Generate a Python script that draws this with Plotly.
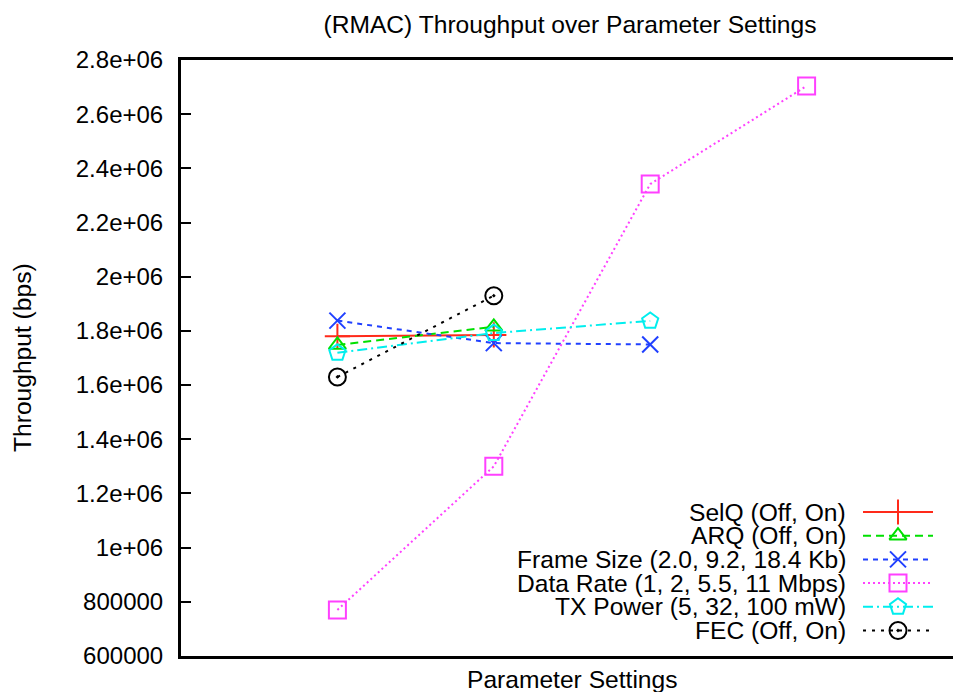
import plotly.graph_objects as go

# Parameter-setting index along the x axis
settings = [1, 2, 3, 4]

# Throughput (bps) per configuration
selq = [1780000, 1785000]
arq = [1748000, 1815000]
frame_size = [1838000, 1755000, 1750000]
data_rate = [770000, 1300000, 2342000, 2704000]
tx_power = [1719000, 1792000, 1837000]
fec = [1630000, 1930000]

names = [
    "SelQ (Off, On)",
    "ARQ (Off, On)",
    "Frame Size (2.0, 9.2, 18.4 Kb)",
    "Data Rate (1, 2, 5.5, 11 Mbps)",
    "TX Power (5, 32, 100 mW)",
    "FEC (Off, On)",
]

y_tickvals = [600000, 800000, 1000000, 1200000, 1400000, 1600000, 1800000,
              2000000, 2200000, 2400000, 2600000, 2800000]
y_ticktext = ["600000", "800000", "1e+06", "1.2e+06", "1.4e+06", "1.6e+06",
              "1.8e+06", "2e+06", "2.2e+06", "2.4e+06", "2.6e+06", "2.8e+06"]

series = [selq, arq, frame_size, data_rate, tx_power, fec]

styles = [
    dict(color="#ff2a1a", dash="solid", symbol="cross-thin-open", size=18),
    dict(color="#00e000", dash="8px,5px", symbol="triangle-up-open", size=15),
    dict(color="#2040ff", dash="5px,5px", symbol="x-thin-open", size=16),
    dict(color="#ff40ff", dash="2px,3px", symbol="square-open", size=17),
    dict(color="#00eeee", dash="10px,4px,2px,4px", symbol="pentagon-open", size=17),
    dict(color="#000000", dash="3px,6px", symbol="circle-open-dot", size=17),
]

FONT = "Liberation Sans, Arial, Helvetica, sans-serif"
TEXT_SIZE = 24.6

fig = go.Figure()

for vals, st, name in zip(series, styles, names):
    fig.add_trace(go.Scatter(
        x=settings[:len(vals)], y=vals, name=name, mode="lines+markers",
        line=dict(color=st["color"], dash=st["dash"], width=2),
        marker=dict(symbol=st["symbol"], size=st["size"], color=st["color"],
                    line=dict(color=st["color"], width=2)),
        showlegend=False, hoverinfo="x+y+name",
    ))

# Key: sample line with a centred marker, label to its left
for row, (st, name) in enumerate(zip(styles, names)):
    fig.add_trace(go.Scatter(
        x=[0, 1], y=[row, row], mode="lines", xaxis="x2", yaxis="y2",
        line=dict(color=st["color"], dash=st["dash"], width=2),
        showlegend=False, hoverinfo="skip",
    ))
    fig.add_trace(go.Scatter(
        x=[0.5], y=[row], mode="markers", xaxis="x2", yaxis="y2",
        marker=dict(symbol=st["symbol"], size=st["size"], color=st["color"],
                    line=dict(color=st["color"], width=2)),
        showlegend=False, hoverinfo="skip",
    ))
    fig.add_annotation(
        x=0.8627, xref="paper", y=row, yref="y2", text=name, showarrow=False,
        xanchor="right", yanchor="middle", borderpad=0,
        font=dict(size=TEXT_SIZE, color="black"),
    )

W, H = 953, 692
L, T, B = 181, 60, 36
plot_w = W - L
step = 156.4

fig.update_layout(
    width=W, height=H,
    margin=dict(l=L, r=0, t=T, b=B),
    paper_bgcolor="white", plot_bgcolor="white",
    font=dict(family=FONT, size=24, color="black"),
    title=dict(text="(RMAC) Throughput over Parameter Settings",
               x=570 / W, xanchor="center",
               y=1 - 24 / H, yanchor="middle", yref="container",
               font=dict(size=TEXT_SIZE)),
    xaxis=dict(range=[0, plot_w / step], showticklabels=False, ticks="",
               showgrid=False, zeroline=False, showline=True,
               linecolor="black", linewidth=3, mirror=True, domain=[0, 1]),
    yaxis=dict(range=[600000, 2800000], tickvals=y_tickvals,
               ticktext=y_ticktext, ticks="inside", ticklen=10,
               tickwidth=2, tickcolor="black", showgrid=False,
               zeroline=False, showline=True, linecolor="black",
               linewidth=3, ticklabelstandoff=10,
               tickfont=dict(size=24)),
    xaxis2=dict(domain=[(863 - L) / plot_w, (933 - L) / plot_w],
                range=[0, 1], visible=False, anchor="y2"),
    yaxis2=dict(domain=[0, 1], range=[(656 - 512) / 23.7, (60 - 512) / 23.7],
                visible=False, anchor="x2"),
    showlegend=False,
)

fig.add_annotation(
    text="Throughput (bps)", textangle=-90, showarrow=False,
    x=(22 - L) / plot_w, xref="paper", xanchor="center",
    y=0.5, yref="paper", yanchor="middle", font=dict(size=TEXT_SIZE),
)
fig.add_annotation(
    text="Parameter Settings", showarrow=False,
    x=(572 - L) / plot_w, xref="paper", xanchor="center",
    y=-(679 - 656) / (656 - T), yref="paper", yanchor="middle",
    font=dict(size=TEXT_SIZE),
)

fig.write_html("out.html")
